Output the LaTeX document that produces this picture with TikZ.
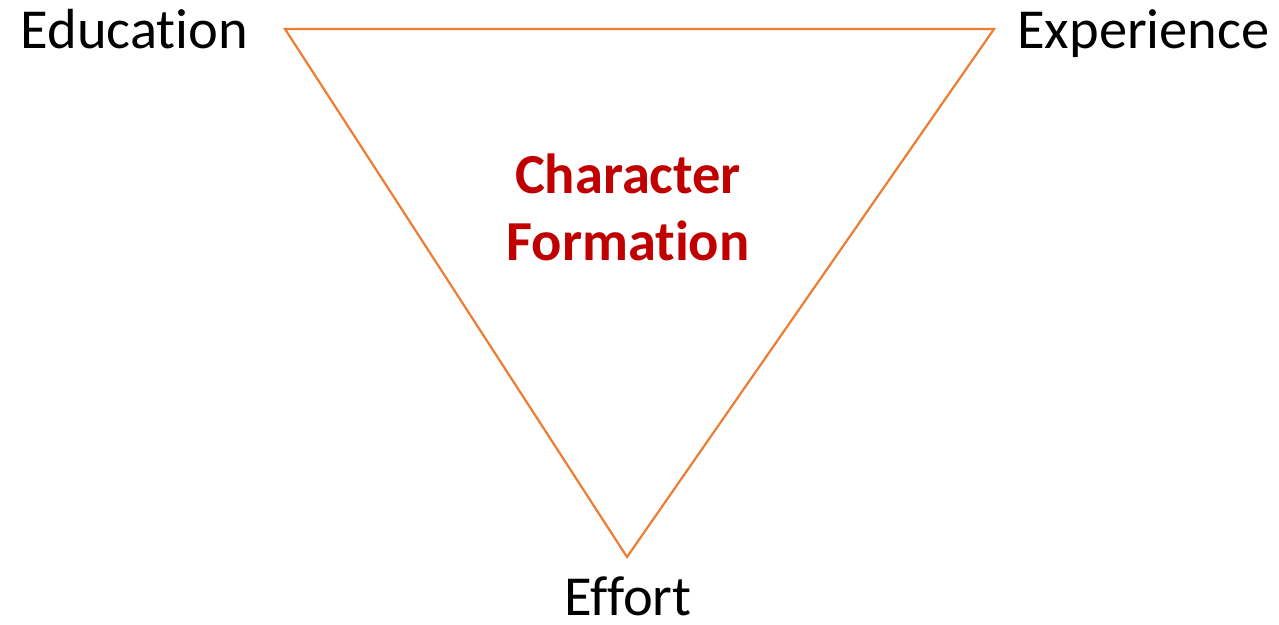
\documentclass[tikz,border=0pt]{standalone}
\usepackage{fontspec}
\setmainfont{Carlito}[RawFeature={-liga;-clig}]
\definecolor{triorange}{RGB}{237,125,49}
\definecolor{darkred}{RGB}{192,0,0}
\begin{document}
\begin{tikzpicture}[x=1pt,y=-1pt,
  lbl/.style={inner sep=0pt,anchor=base,text depth=0pt,font=\fontsize{56.5}{68}\selectfont,text=black},
  title/.style={inner sep=0pt,anchor=base,font=\fontsize{56.5}{68}\selectfont\bfseries,text=darkred,align=center},
  edge/.style={draw=triorange,line width=2.2pt,line join=miter}]
\useasboundingbox (0,0) rectangle (1279,624);
\coordinate (tl) at (285,29);
\coordinate (tr) at (994,29);
\coordinate (bt) at (627,557);
\draw[edge] (tl) -- (tr) -- (bt) -- cycle;
\node[lbl] (edu) at (134.5,48) {Education};
\node[lbl] (exp) at (1143.5,48) {Experience};
\node[lbl] (eff) at (628,615) {Effort};
\node[title] (c1) at (628,193) {Character};
\node[title] (c2) at (628,260) {Formation};
\end{tikzpicture}
\end{document}
